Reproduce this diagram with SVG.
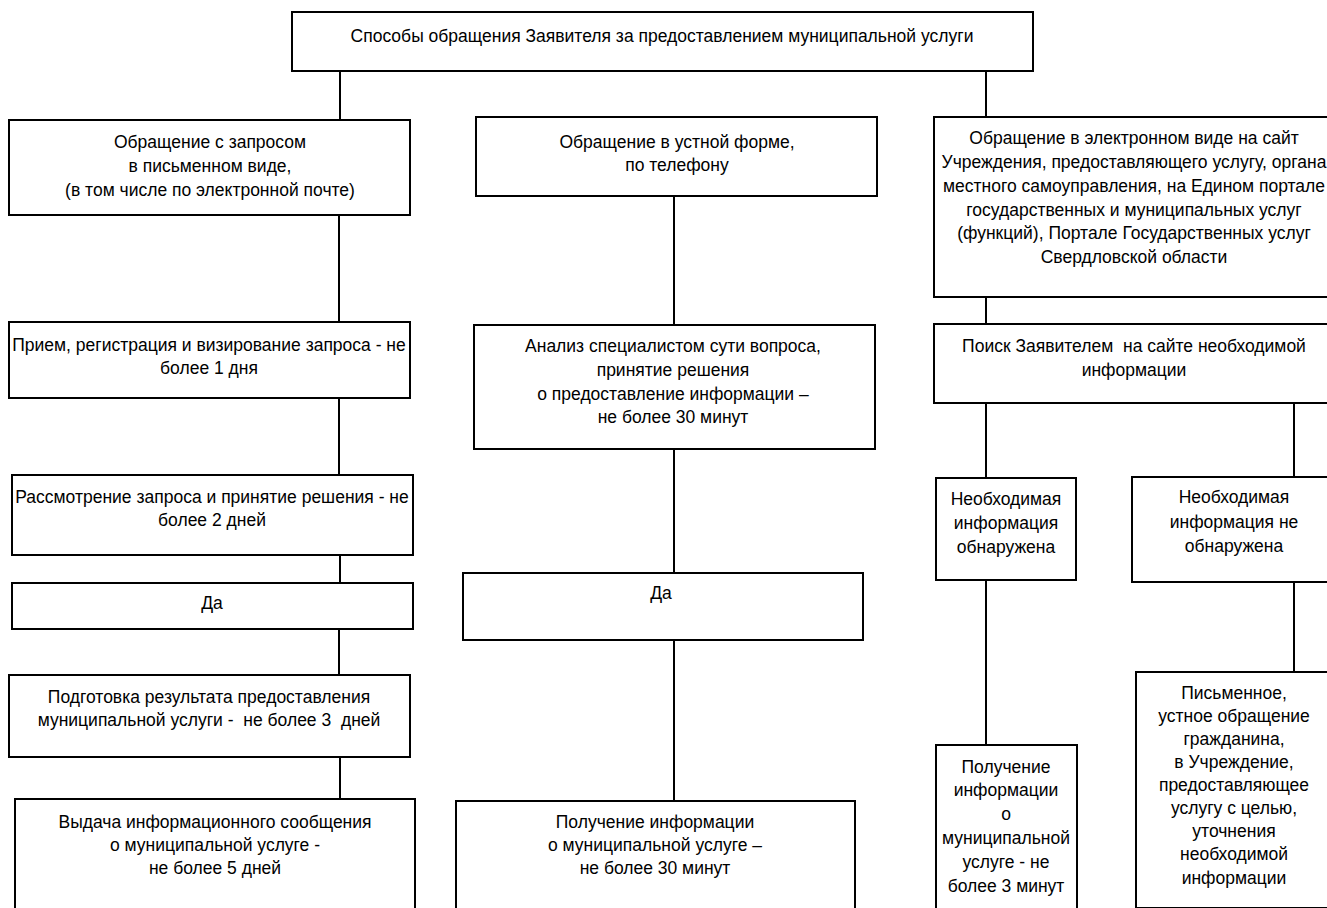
<svg xmlns="http://www.w3.org/2000/svg" width="1327" height="908" viewBox="0 0 1327 908">
<style>
rect{fill:#fff;stroke:#000;stroke-width:2}
line{stroke:#000;stroke-width:2}
text{font-family:"Liberation Sans",Arial,sans-serif;font-size:17.5px;fill:#000;text-anchor:middle}
.pre{white-space:pre}
</style>
<rect x="0" y="0" width="1327" height="908" style="fill:#fff;stroke:none"/>
<g id="connectors">
<line x1="340" y1="71" x2="340" y2="120"/>
<line x1="986" y1="71" x2="986" y2="117"/>
<line x1="339" y1="215" x2="339" y2="322"/>
<line x1="339" y1="398" x2="339" y2="475"/>
<line x1="340" y1="555" x2="340" y2="583"/>
<line x1="339" y1="629" x2="339" y2="675"/>
<line x1="340" y1="757" x2="340" y2="799"/>
<line x1="674" y1="196" x2="674" y2="325"/>
<line x1="674" y1="449" x2="674" y2="573"/>
<line x1="674" y1="640" x2="674" y2="801"/>
<line x1="986" y1="297" x2="986" y2="324"/>
<line x1="986" y1="403" x2="986" y2="478"/>
<line x1="1294" y1="403" x2="1294" y2="477"/>
<line x1="986" y1="580" x2="986" y2="745"/>
<line x1="1294" y1="582" x2="1294" y2="672"/>
</g>
<g id="top">
<rect x="292" y="12" width="741" height="59"/>
<text x="662" y="42">Способы обращения Заявителя за предоставлением муниципальной услуги</text>
</g>
<g id="l1">
<rect x="9" y="120" width="401" height="95"/>
<text x="210" y="148">Обращение с запросом</text>
<text x="210" y="172">в письменном виде,</text>
<text x="210" y="196">(в том числе по электронной почте)</text>
</g>
<g id="l2">
<rect x="9" y="322" width="401" height="76"/>
<text x="209" y="351">Прием, регистрация и визирование запроса - не</text>
<text x="209" y="374">более 1 дня</text>
</g>
<g id="l3">
<rect x="12" y="475" width="401" height="80"/>
<text x="212" y="503">Рассмотрение запроса и принятие решения - не</text>
<text x="212" y="526">более 2 дней</text>
</g>
<g id="l4">
<rect x="12" y="583" width="401" height="46"/>
<text x="212" y="609">Да</text>
</g>
<g id="l5">
<rect x="9" y="675" width="401" height="82"/>
<text x="209" y="703">Подготовка результата предоставления</text>
<text x="209" y="726" class="pre" xml:space="preserve">муниципальной услуги -  не более 3  дней</text>
</g>
<g id="l6">
<rect x="15" y="799" width="400" height="120"/>
<text x="215" y="828">Выдача информационного сообщения</text>
<text x="215" y="851">о муниципальной услуге -</text>
<text x="215" y="874">не более 5 дней</text>
</g>
<g id="m1">
<rect x="476" y="117" width="401" height="79"/>
<text x="677" y="148">Обращение в устной форме,</text>
<text x="677" y="171">по телефону</text>
</g>
<g id="m2">
<rect x="474" y="325" width="401" height="124"/>
<text x="673" y="352">Анализ специалистом сути вопроса,</text>
<text x="673" y="376">принятие решения</text>
<text x="673" y="400">о предоставление информации –</text>
<text x="673" y="423">не более 30 минут</text>
</g>
<g id="m3">
<rect x="463" y="573" width="400" height="67"/>
<text x="661" y="599">Да</text>
</g>
<g id="m4">
<rect x="456" y="801" width="399" height="120"/>
<text x="655" y="828">Получение информации</text>
<text x="655" y="851">о муниципальной услуге –</text>
<text x="655" y="874">не более 30 минут</text>
</g>
<g id="r1">
<rect x="934" y="117" width="400" height="180"/>
<text x="1134" y="144">Обращение в электронном виде на сайт</text>
<text x="1134" y="168">Учреждения, предоставляющего услугу, органа</text>
<text x="1134" y="192">местного самоуправления, на Едином портале</text>
<text x="1134" y="216">государственных и муниципальных услуг</text>
<text x="1134" y="239">(функций), Портале Государственных услуг</text>
<text x="1134" y="263">Свердловской области</text>
</g>
<g id="r2">
<rect x="934" y="324" width="400" height="79"/>
<text x="1134" y="352" class="pre" xml:space="preserve">Поиск Заявителем  на сайте необходимой</text>
<text x="1134" y="376">информации</text>
</g>
<g id="r3a">
<rect x="936" y="478" width="140" height="102"/>
<text x="1006" y="505">Необходимая</text>
<text x="1006" y="529">информация</text>
<text x="1006" y="553">обнаружена</text>
</g>
<g id="r3b">
<rect x="1132" y="477" width="204" height="105"/>
<text x="1234" y="503">Необходимая</text>
<text x="1234" y="528">информация не</text>
<text x="1234" y="552">обнаружена</text>
</g>
<g id="r4a">
<rect x="936" y="745" width="141" height="180"/>
<text x="1006" y="773">Получение</text>
<text x="1006" y="796">информации</text>
<text x="1006" y="820">о</text>
<text x="1006" y="844">муниципальной</text>
<text x="1006" y="868">услуге - не</text>
<text x="1006" y="892">более 3 минут</text>
</g>
<g id="r4b">
<rect x="1136" y="672" width="200" height="236"/>
<text x="1234" y="699">Письменное,</text>
<text x="1234" y="722">устное обращение</text>
<text x="1234" y="745">гражданина,</text>
<text x="1234" y="768">в Учреждение,</text>
<text x="1234" y="791">предоставляющее</text>
<text x="1234" y="814">услугу с целью,</text>
<text x="1234" y="837">уточнения</text>
<text x="1234" y="860">необходимой</text>
<text x="1234" y="884">информации</text>
</g>
</svg>
